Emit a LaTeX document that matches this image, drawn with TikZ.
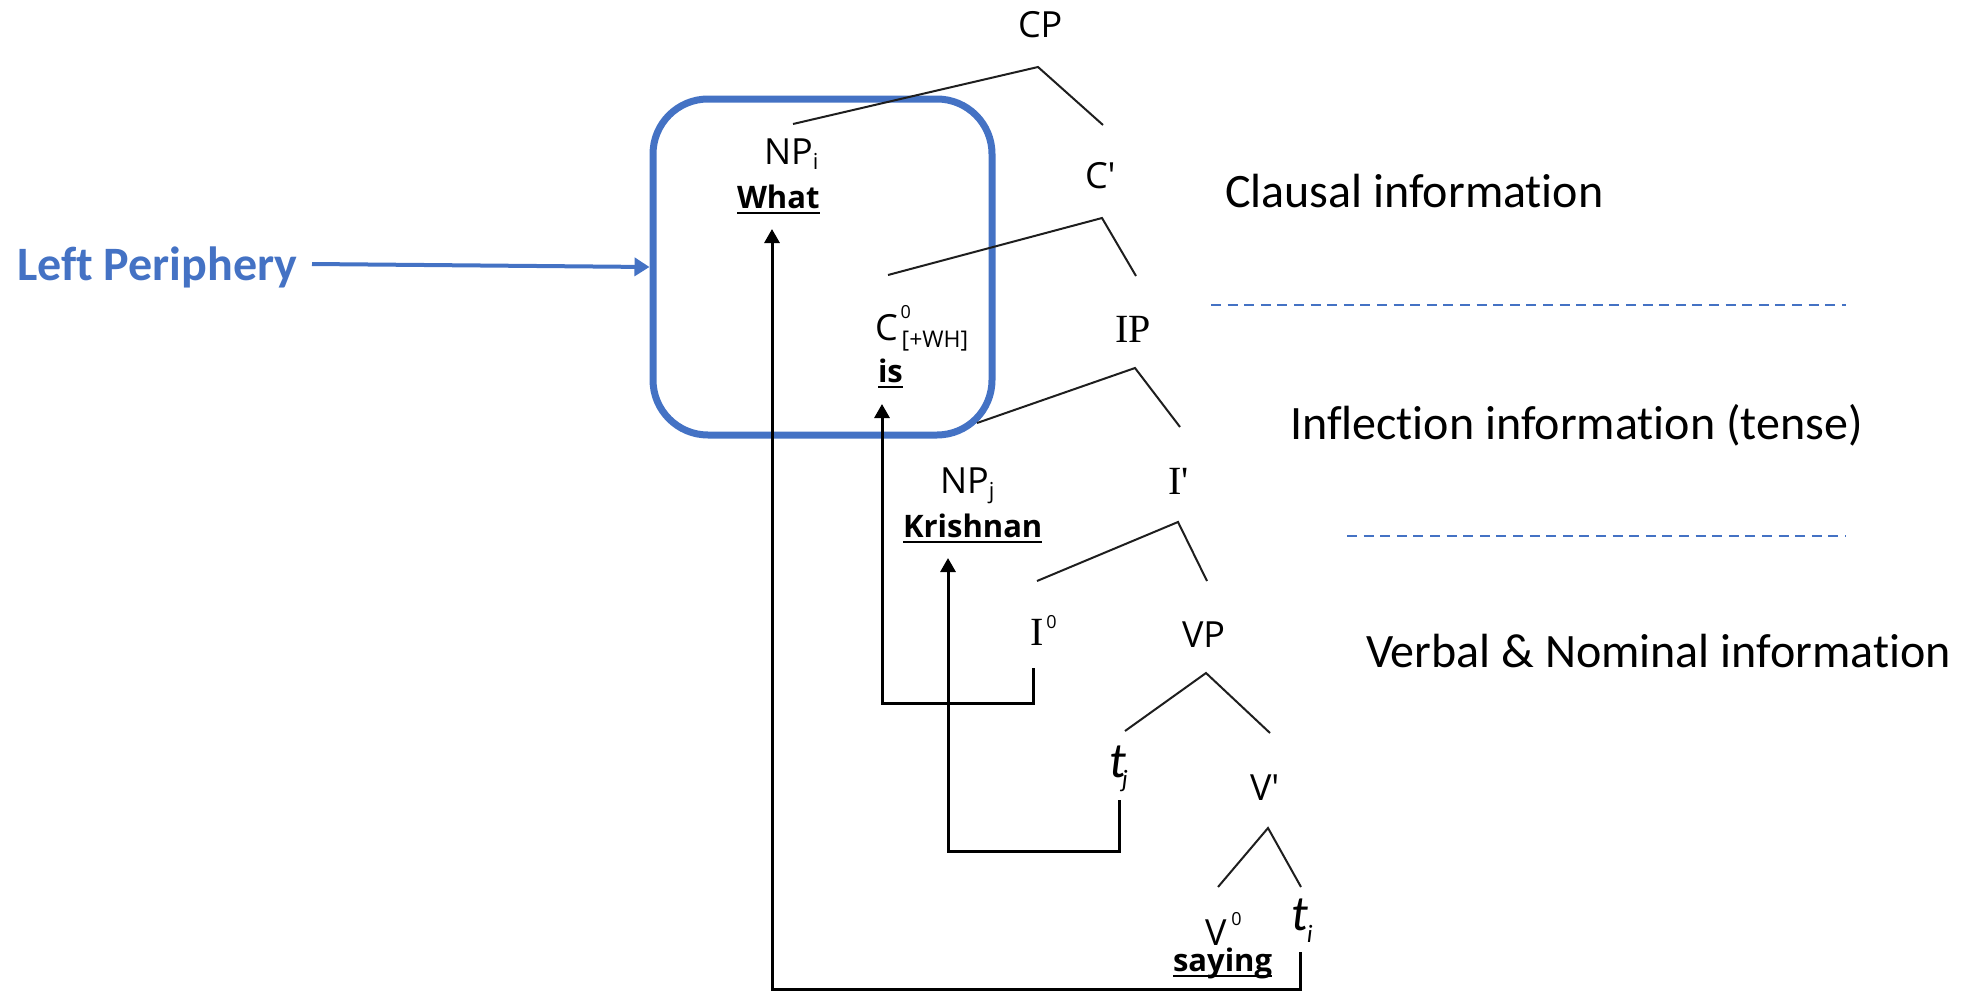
\documentclass[tikz,border=0pt]{standalone}
\usepackage{fontspec}
\usetikzlibrary{arrows.meta}
\newfontfamily\treefont{Open Sans}
\newfontfamily\treeserif{Liberation Serif}
\newfontfamily\calib[Ligatures=NoCommon]{Carlito}
\definecolor{lpblue}{HTML}{4472C4}
\definecolor{branch}{HTML}{1E1E1E}
% underlined word: rule drawn under the box at its full width
\newcommand\undl[1]{\setbox0=\hbox{#1}\rlap{\rule[-6.3pt]{\wd0}{2.6pt}}\box0}
\newcommand\fs[1]{\fontsize{#1}{#1}\selectfont}
\begin{document}
\begin{tikzpicture}[x=1pt,y=-1pt,
  lbl/.style={inner sep=0pt,outer sep=0pt,anchor=base west},
  cat/.style={lbl,font=\treefont\fs{36}},
  icat/.style={lbl,font=\treeserif\fs{40}},
  word/.style={lbl,font=\treefont\bfseries\fs{31}},
  trace/.style={lbl,font=\calib\itshape\fs{50}},
  info/.style={lbl,font=\calib\fs{48}},
  branchline/.style={draw=branch,line width=2pt},
  mv/.style={draw=black,line width=3pt,-{Triangle[length=14pt,width=15pt]}},
  layer/.style={draw=lpblue,line width=2pt,dash pattern=on 10pt off 6.6pt},
  lpbox/.style={draw=lpblue,line width=7pt,rounded corners=55pt,
    minimum width=339pt,minimum height=336pt,inner sep=0pt},
]
\useasboundingbox (0,0) rectangle (1964,993);

% ---- left periphery box and its label ----
\node[lpbox] (box) at (822.5,267) {};
\node[lbl,font=\calib\bfseries\fs{48},text=lpblue] (lp) at (17,280) {Left Periphery};
\coordinate (lpa) at (312,264);
\draw[draw=lpblue,line width=4pt,-{Triangle[length=15pt,width=18pt]}] (lpa) -- (box.west);

% ---- tree labels ----
\node[cat] (CP) at (1018,37) {CP};
\node[cat] (NPi) at (764,164) {NP\raisebox{-5pt}{\fs{22}i}};
\node[word] (What) at (737,208) {\undl{What}};
\node[cat] (Cbar) at (1085,188) {C'};
\node[cat] (C0) at (875,340) {C\kern3pt\rlap{\raisebox{22pt}{\fs{18}0}}\kern1pt\raisebox{-7pt}{\fs{23}[+WH]}};
\node[word] (is) at (878,382) {\undl{is}};
\node[icat] (IP) at (1115,342) {IP};
\node[cat] (NPj) at (940,493) {NP\raisebox{-5pt}{\fs{22}j}};
\node[word] (Krishnan) at (903,537) {\undl{Krishnan}};
\node[icat] (Ibar) at (1168,494) {I'};
\node[icat] (I0) at (1030,645) {I\kern3pt\raisebox{17pt}{\treefont\fs{18}0}};
\node[cat] (VP) at (1182,647) {VP};
\node[trace] (tj) at (1109,777) {t\kern-4pt\raisebox{-10pt}{\fs{25}j}};
\node[cat] (Vbar) at (1250,800) {V'};
\node[cat] (V0) at (1205,945) {V\kern5pt\raisebox{20pt}{\fs{18}0}};
\node[word] (saying) at (1173,971) {\undl{saying}};
\node[trace] (ti) at (1291,930) {t\kern-1pt\raisebox{-12pt}{\fs{25}i}};

% ---- branches ----
\coordinate (cp-l) at (793,124);  \coordinate (cp-a) at (1038,67);  \coordinate (cp-r) at (1103,125);
\coordinate (cb-l) at (888,275);  \coordinate (cb-a) at (1102,218); \coordinate (cb-r) at (1136,276);
\coordinate (ip-l) at (977,423);  \coordinate (ip-a) at (1135,368); \coordinate (ip-r) at (1180,427);
\coordinate (ib-l) at (1037,581); \coordinate (ib-a) at (1178,522); \coordinate (ib-r) at (1207,581);
\coordinate (vp-l) at (1125,731); \coordinate (vp-a) at (1206,673); \coordinate (vp-r) at (1270,733);
\coordinate (vb-l) at (1218,887); \coordinate (vb-a) at (1268,828); \coordinate (vb-r) at (1301,887);
\draw[branchline] (cp-l) -- (cp-a) -- (cp-r);
\draw[branchline] (cb-l) -- (cb-a) -- (cb-r);
\draw[branchline] (ip-l) -- (ip-a) -- (ip-r);
\draw[branchline] (ib-l) -- (ib-a) -- (ib-r);
\draw[branchline] (vp-l) -- (vp-a) -- (vp-r);
\draw[branchline] (vb-l) -- (vb-a) -- (vb-r);

% ---- movement paths ----
\coordinate (ti-f) at (1300,952);  \coordinate (what-t) at (772,229);
\coordinate (i0-f) at (1033,668);  \coordinate (is-t) at (882,404);
\coordinate (tj-f) at (1119,800);  \coordinate (kr-t) at (948,558);
\draw[mv] (ti-f) -- ++(0,37) -| (what-t);
\draw[mv] (i0-f) -- ++(0,35) -| (is-t);
\draw[mv] (tj-f) -- ++(0,51) -| (kr-t);

% ---- layer annotations ----
\node[info] (clausal) at (1225,207) {Clausal information};
\node[info] (infl) at (1290,439) {Inflection information (tense)};
\node[info] (verbal) at (1366,667) {Verbal \& Nominal information};
\coordinate (d1a) at (1211,305); \coordinate (d1b) at (1846,305);
\coordinate (d2a) at (1347,536); \coordinate (d2b) at (1846,536);
\draw[layer] (d1a) -- (d1b);
\draw[layer] (d2a) -- (d2b);
\end{tikzpicture}
\end{document}
